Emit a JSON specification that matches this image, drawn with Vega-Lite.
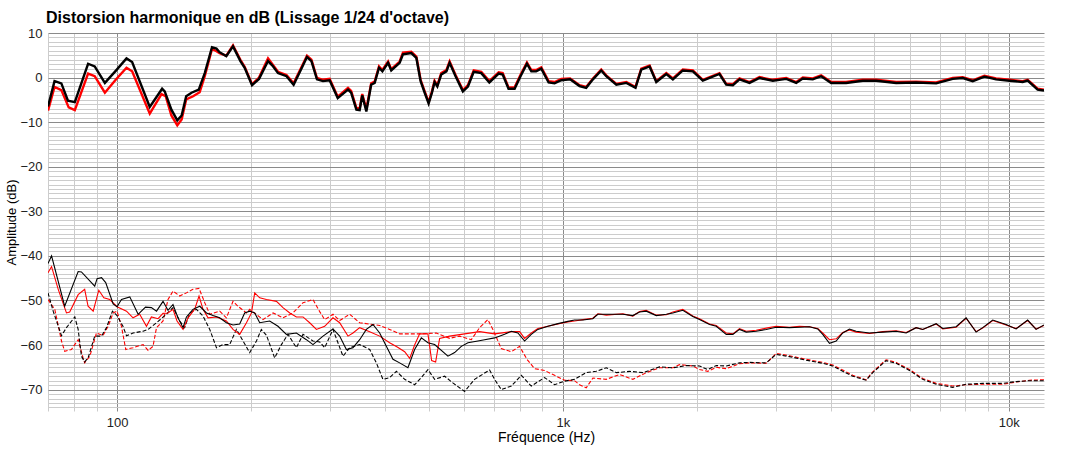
{
  "$schema": "https://vega.github.io/schema/vega-lite/v6.json",
  "width": 996,
  "height": 378,
  "autosize": {"type": "none"},
  "padding": {"left": 48, "top": 33, "right": 34, "bottom": 40},
  "background": "white",
  "title": {"text": "Distorsion harmonique en dB (Lissage 1/24 d'octave)", "anchor": "start", "frame": "group", "font": "Liberation Sans", "fontSize": 16, "fontWeight": "bold", "color": "#000000", "offset": 1, "dx": -2},
  "datasets": {
    "K0": [{"f":70,"db":-6.5},{"f":72.4,"db":-0.8},{"f":75.0,"db":-1.3},{"f":77.6,"db":-5.2},{"f":80.4,"db":-5.5},{"f":86.1,"db":3.1},{"f":89.1,"db":2.5},{"f":93.9,"db":-1.2},{"f":99.3,"db":1.5},{"f":105.0,"db":4.3},{"f":108.1,"db":3.5},{"f":118.4,"db":-6.6},{"f":126.2,"db":-2.5},{"f":127.9,"db":-3.1},{"f":132.4,"db":-7.2},{"f":136.5,"db":-9.6},{"f":139.6,"db":-8.5},{"f":142.9,"db":-4.2},{"f":146.9,"db":-3.4},{"f":152.5,"db":-2.7},{"f":157.3,"db":1.0},{"f":163.3,"db":6.8},{"f":167.1,"db":6.5},{"f":169.8,"db":5.7},{"f":175.8,"db":4.8},{"f":182.0,"db":7.0},{"f":189.1,"db":3.7},{"f":193.3,"db":2.2},{"f":200.8,"db":-1.7},{"f":208.2,"db":-0.3},{"f":218.1,"db":3.7},{"f":223.1,"db":2.7},{"f":229.6,"db":1.0},{"f":239.9,"db":0.3},{"f":248.9,"db":-1.6},{"f":259.1,"db":2.0},{"f":266.7,"db":4.6},{"f":272.9,"db":3.7},{"f":280.8,"db":-0.4},{"f":289.6,"db":-0.8},{"f":299.8,"db":-0.6},{"f":312.6,"db":-4.6},{"f":329.6,"db":-2.7},{"f":335.0,"db":-3.4},{"f":344.2,"db":-7.2},{"f":350.1,"db":-7.3},{"f":354.8,"db":-4.0},{"f":362.4,"db":-7.6},{"f":371.5,"db":-1.6},{"f":378.3,"db":-1.2},{"f":386.9,"db":2.2},{"f":393.7,"db":1.4},{"f":405.4,"db":3.3},{"f":412.1,"db":1.6},{"f":430.4,"db":3.3},{"f":437.8,"db":5.2},{"f":457.1,"db":5.5},{"f":469.2,"db":4.4},{"f":479.6,"db":-0.8},{"f":489.8,"db":-3.4},{"f":499.9,"db":-5.8},{"f":508.5,"db":-3.4},{"f":515.5,"db":-1.0},{"f":522.9,"db":-2.0},{"f":533.6,"db":0.7},{"f":548.0,"db":1.4},{"f":557.1,"db":3.3},{"f":574.5,"db":0.3},{"f":596.6,"db":-3.1},{"f":612.4,"db":-2.0},{"f":631.0,"db":1.3},{"f":656.1,"db":1.0},{"f":683.9,"db":-1.1},{"f":717.8,"db":0.9},{"f":732.8,"db":0.7},{"f":755.3,"db":-2.5},{"f":779.4,"db":-2.5},{"f":803.5,"db":0.3},{"f":830.6,"db":3.1},{"f":849.6,"db":1.4},{"f":871.0,"db":1.4},{"f":894.4,"db":2.0},{"f":929.0,"db":-1.1},{"f":958.0,"db":-1.3},{"f":991.7,"db":-0.6},{"f":1038,"db":-0.4},{"f":1090,"db":-1.9},{"f":1128,"db":-2.3},{"f":1168,"db":-0.4},{"f":1219,"db":1.6},{"f":1251,"db":0.3},{"f":1318,"db":-1.6},{"f":1388,"db":-1.2},{"f":1455,"db":-2.3},{"f":1499,"db":1.8},{"f":1565,"db":2.5},{"f":1620,"db":-1.0},{"f":1706,"db":0.8},{"f":1765,"db":-0.4},{"f":1858,"db":1.6},{"f":1957,"db":1.4},{"f":2060,"db":-0.7},{"f":2245,"db":0.8},{"f":2325,"db":-1.6},{"f":2406,"db":-1.7},{"f":2490,"db":-0.4},{"f":2622,"db":-1.2},{"f":2761,"db":-0.1},{"f":2958,"db":-0.7},{"f":3170,"db":-0.3},{"f":3337,"db":-1.2},{"f":3453,"db":-0.2},{"f":3636,"db":-0.4},{"f":3796,"db":0.3},{"f":3998,"db":-1.2},{"f":4319,"db":-1.2},{"f":4706,"db":-0.7},{"f":5043,"db":-0.7},{"f":5591,"db":-1.2},{"f":6200,"db":-1.1},{"f":6876,"db":-1.3},{"f":7488,"db":-0.3},{"f":7887,"db":-0.1},{"f":8305,"db":-0.8},{"f":8821,"db":0.2},{"f":9369,"db":-0.4},{"f":10037,"db":-0.7},{"f":10750,"db":-1.0},{"f":11030,"db":-0.7},{"f":11610,"db":-2.7},{"f":12000,"db":-2.9}],
    "R0": [{"f":70,"db":-7.4},{"f":72.4,"db":-2.1},{"f":75.0,"db":-2.8},{"f":77.9,"db":-6.7},{"f":80.4,"db":-7.3},{"f":86.1,"db":0.9},{"f":89.1,"db":0.3},{"f":93.9,"db":-3.4},{"f":99.3,"db":-0.5},{"f":105.0,"db":2.2},{"f":108.1,"db":1.4},{"f":118.4,"db":-8.1},{"f":125.8,"db":-3.7},{"f":128.6,"db":-4.2},{"f":132.4,"db":-8.5},{"f":136.5,"db":-10.7},{"f":139.6,"db":-9.4},{"f":142.9,"db":-4.9},{"f":148.1,"db":-4.2},{"f":153.2,"db":-3.3},{"f":157.3,"db":0.3},{"f":163.3,"db":6.4},{"f":167.1,"db":5.9},{"f":169.8,"db":5.5},{"f":175.8,"db":4.9},{"f":182.0,"db":7.2},{"f":189.1,"db":4.0},{"f":193.3,"db":2.4},{"f":200.8,"db":-1.5},{"f":208.2,"db":0.0},{"f":218.1,"db":4.3},{"f":223.1,"db":3.0},{"f":229.6,"db":1.3},{"f":239.9,"db":0.6},{"f":248.9,"db":-1.3},{"f":259.1,"db":2.3},{"f":266.7,"db":4.9},{"f":272.9,"db":4.0},{"f":280.8,"db":-0.1},{"f":289.6,"db":-0.5},{"f":299.8,"db":-0.3},{"f":312.6,"db":-4.3},{"f":329.6,"db":-2.3},{"f":335.0,"db":-3.0},{"f":344.2,"db":-6.8},{"f":350.1,"db":-6.9},{"f":354.8,"db":-3.7},{"f":362.4,"db":-7.1},{"f":371.5,"db":-1.3},{"f":378.3,"db":-0.9},{"f":386.9,"db":2.5},{"f":393.7,"db":1.7},{"f":405.4,"db":3.6},{"f":412.1,"db":1.9},{"f":430.4,"db":3.6},{"f":437.8,"db":5.6},{"f":457.1,"db":5.8},{"f":469.2,"db":4.7},{"f":479.6,"db":-0.5},{"f":489.8,"db":-3.1},{"f":499.9,"db":-5.5},{"f":508.5,"db":-3.1},{"f":515.5,"db":-0.7},{"f":522.9,"db":-1.7},{"f":533.6,"db":1.0},{"f":548.0,"db":1.7},{"f":557.1,"db":3.6},{"f":574.5,"db":0.6},{"f":596.6,"db":-2.8},{"f":612.4,"db":-1.7},{"f":631.0,"db":1.6},{"f":656.1,"db":1.3},{"f":683.9,"db":-0.8},{"f":717.8,"db":1.2},{"f":732.8,"db":1.0},{"f":755.3,"db":-2.2},{"f":779.4,"db":-2.2},{"f":803.5,"db":0.6},{"f":830.6,"db":3.4},{"f":849.6,"db":1.7},{"f":871.0,"db":1.7},{"f":894.4,"db":2.3},{"f":929.0,"db":-0.8},{"f":958.0,"db":-1.0},{"f":991.7,"db":-0.3},{"f":1038,"db":-0.2},{"f":1090,"db":-1.7},{"f":1128,"db":-2.1},{"f":1168,"db":-0.2},{"f":1219,"db":1.8},{"f":1251,"db":0.5},{"f":1318,"db":-1.4},{"f":1388,"db":-1.0},{"f":1455,"db":-2.1},{"f":1499,"db":2.0},{"f":1565,"db":2.7},{"f":1620,"db":-0.8},{"f":1706,"db":1.0},{"f":1765,"db":-0.2},{"f":1858,"db":1.8},{"f":1957,"db":1.6},{"f":2060,"db":-0.5},{"f":2245,"db":1.0},{"f":2325,"db":-1.4},{"f":2406,"db":-1.5},{"f":2490,"db":-0.2},{"f":2622,"db":-1.0},{"f":2761,"db":0.1},{"f":2958,"db":-0.5},{"f":3170,"db":-0.1},{"f":3337,"db":-1.0},{"f":3453,"db":0.0},{"f":3636,"db":-0.2},{"f":3796,"db":0.5},{"f":3998,"db":-1.0},{"f":4319,"db":-1.0},{"f":4706,"db":-0.5},{"f":5043,"db":-0.5},{"f":5591,"db":-1.0},{"f":6200,"db":-0.9},{"f":6876,"db":-1.1},{"f":7488,"db":-0.1},{"f":7887,"db":0.1},{"f":8305,"db":-0.6},{"f":8821,"db":0.4},{"f":9369,"db":-0.2},{"f":10037,"db":-0.5},{"f":10750,"db":-0.8},{"f":11030,"db":-0.5},{"f":11610,"db":-2.5},{"f":12000,"db":-2.7}],
    "K2": [{"f":70,"db":-41.7},{"f":71.3,"db":-40.0},{"f":76.3,"db":-51.3},{"f":81.8,"db":-43.5},{"f":83.2,"db":-43.6},{"f":89.1,"db":-46.8},{"f":90.2,"db":-45.1},{"f":92.3,"db":-44.9},{"f":94.3,"db":-46.0},{"f":98.0,"db":-50.8},{"f":100,"db":-51.4},{"f":102.3,"db":-49.8},{"f":106.8,"db":-49.2},{"f":111.5,"db":-53.1},{"f":115.8,"db":-51.5},{"f":119.4,"db":-51.6},{"f":122.6,"db":-52.4},{"f":126.8,"db":-50.2},{"f":130.1,"db":-52.2},{"f":133.5,"db":-50.9},{"f":137.0,"db":-53.9},{"f":140.6,"db":-56.1},{"f":143.1,"db":-53.7},{"f":148.0,"db":-52.0},{"f":153.3,"db":-51.3},{"f":158.7,"db":-52.8},{"f":164.2,"db":-53.4},{"f":169.9,"db":-53.9},{"f":175.9,"db":-55.0},{"f":182.0,"db":-55.5},{"f":188.4,"db":-55.3},{"f":193.3,"db":-52.8},{"f":198.4,"db":-52.4},{"f":203.6,"db":-52.8},{"f":208.9,"db":-55.0},{"f":220.0,"db":-54.6},{"f":229.6,"db":-55.8},{"f":239.8,"db":-57.6},{"f":252.5,"db":-57.3},{"f":265.9,"db":-58.8},{"f":275.1,"db":-59.9},{"f":289.7,"db":-58.0},{"f":305.0,"db":-56.4},{"f":315.7,"db":-58.0},{"f":326.9,"db":-61.0},{"f":338.2,"db":-60.6},{"f":350.1,"db":-58.8},{"f":362.4,"db":-56.5},{"f":375.0,"db":-55.4},{"f":388.2,"db":-57.3},{"f":401.8,"db":-60.3},{"f":415.8,"db":-63.2},{"f":430.4,"db":-64.0},{"f":449.2,"db":-65.1},{"f":465.0,"db":-61.0},{"f":481.4,"db":-58.4},{"f":498.1,"db":-59.5},{"f":515.6,"db":-59.9},{"f":552.3,"db":-62.5},{"f":571.7,"db":-61.7},{"f":591.8,"db":-60.3},{"f":612.4,"db":-59.5},{"f":644.8,"db":-59.1},{"f":667.6,"db":-58.8},{"f":702.8,"db":-58.4},{"f":740.1,"db":-57.6},{"f":766.3,"db":-56.9},{"f":792.7,"db":-57.3},{"f":820.6,"db":-59.1},{"f":849.5,"db":-57.6},{"f":878.9,"db":-56.5},{"f":925.5,"db":-55.8},{"f":974.7,"db":-55.2},{"f":1026,"db":-54.7},{"f":1062,"db":-54.4},{"f":1109,"db":-54.4},{"f":1167,"db":-54.1},{"f":1198,"db":-53.1},{"f":1251,"db":-53.1},{"f":1363,"db":-53.1},{"f":1435,"db":-53.4},{"f":1486,"db":-52.6},{"f":1538,"db":-52.4},{"f":1620,"db":-53.4},{"f":1706,"db":-53.1},{"f":1765,"db":-52.8},{"f":1858,"db":-52.2},{"f":1956,"db":-53.6},{"f":2025,"db":-54.3},{"f":2133,"db":-55.4},{"f":2208,"db":-55.8},{"f":2325,"db":-57.6},{"f":2406,"db":-57.6},{"f":2490,"db":-56.5},{"f":2578,"db":-57.1},{"f":2714,"db":-56.9},{"f":2858,"db":-56.5},{"f":3009,"db":-56.0},{"f":3223,"db":-56.1},{"f":3394,"db":-56.0},{"f":3573,"db":-55.9},{"f":3730,"db":-56.4},{"f":3827,"db":-57.6},{"f":3963,"db":-59.6},{"f":4102,"db":-59.1},{"f":4244,"db":-57.3},{"f":4394,"db":-56.4},{"f":4548,"db":-56.9},{"f":4872,"db":-57.3},{"f":5217,"db":-57.1},{"f":5592,"db":-56.9},{"f":5888,"db":-57.3},{"f":6199,"db":-56.1},{"f":6414,"db":-56.5},{"f":6875,"db":-55.2},{"f":7113,"db":-56.3},{"f":7621,"db":-55.9},{"f":8025,"db":-53.9},{"f":8450,"db":-57.1},{"f":8743,"db":-56.1},{"f":9208,"db":-54.4},{"f":9866,"db":-55.4},{"f":10389,"db":-56.4},{"f":11029,"db":-54.4},{"f":11519,"db":-56.5},{"f":12000,"db":-55.5}],
    "R2": [{"f":70,"db":-43.8},{"f":71.3,"db":-42.4},{"f":73.8,"db":-47.5},{"f":77.0,"db":-52.8},{"f":78.3,"db":-52.6},{"f":81.8,"db":-48.7},{"f":84.6,"db":-47.5},{"f":86.1,"db":-51.3},{"f":88.4,"db":-52.4},{"f":91.0,"db":-47.7},{"f":93.4,"db":-49.4},{"f":96.3,"db":-49.8},{"f":100,"db":-51.4},{"f":105.0,"db":-52.4},{"f":108.6,"db":-53.9},{"f":112.4,"db":-53.1},{"f":116.4,"db":-55.8},{"f":119.4,"db":-53.7},{"f":123.6,"db":-54.1},{"f":126.8,"db":-52.9},{"f":130.1,"db":-52.8},{"f":133.5,"db":-52.0},{"f":136.3,"db":-54.6},{"f":140.6,"db":-56.5},{"f":144.3,"db":-53.9},{"f":149.4,"db":-51.9},{"f":152.7,"db":-49.0},{"f":155.9,"db":-52.0},{"f":160.0,"db":-53.9},{"f":167.1,"db":-53.7},{"f":175.9,"db":-54.6},{"f":182.0,"db":-56.5},{"f":188.4,"db":-57.6},{"f":195.1,"db":-55.0},{"f":200.2,"db":-52.8},{"f":203.6,"db":-48.3},{"f":208.9,"db":-49.4},{"f":216.3,"db":-49.8},{"f":227.8,"db":-50.2},{"f":235.6,"db":-51.6},{"f":244.0,"db":-52.8},{"f":252.5,"db":-53.7},{"f":261.3,"db":-53.7},{"f":270.4,"db":-55.0},{"f":280.0,"db":-56.5},{"f":292.2,"db":-55.8},{"f":305.0,"db":-53.9},{"f":315.7,"db":-55.0},{"f":329.6,"db":-58.0},{"f":338.2,"db":-57.3},{"f":350.1,"db":-56.1},{"f":368.7,"db":-57.0},{"f":388.2,"db":-58.0},{"f":408.7,"db":-59.5},{"f":426.0,"db":-60.5},{"f":441.7,"db":-61.5},{"f":453.3,"db":-63.0},{"f":465.0,"db":-60.0},{"f":477.2,"db":-57.5},{"f":498.1,"db":-57.5},{"f":507.7,"db":-63.5},{"f":518.3,"db":-63.8},{"f":529.1,"db":-58.5},{"f":557.2,"db":-58.0},{"f":602.0,"db":-57.5},{"f":650.5,"db":-57.0},{"f":702.8,"db":-57.5},{"f":766.3,"db":-57.0},{"f":799.7,"db":-57.0},{"f":820.6,"db":-58.5},{"f":849.5,"db":-57.3},{"f":878.9,"db":-56.3},{"f":925.5,"db":-55.8},{"f":974.7,"db":-55.3},{"f":1026,"db":-54.8},{"f":1062,"db":-54.6},{"f":1109,"db":-54.3},{"f":1167,"db":-54.0},{"f":1198,"db":-53.0},{"f":1251,"db":-53.3},{"f":1363,"db":-53.0},{"f":1435,"db":-53.5},{"f":1486,"db":-52.5},{"f":1538,"db":-52.2},{"f":1620,"db":-53.3},{"f":1706,"db":-53.2},{"f":1765,"db":-52.6},{"f":1858,"db":-52.0},{"f":1956,"db":-53.5},{"f":2025,"db":-54.1},{"f":2133,"db":-55.3},{"f":2208,"db":-55.6},{"f":2325,"db":-57.3},{"f":2406,"db":-57.5},{"f":2490,"db":-56.3},{"f":2578,"db":-56.9},{"f":2714,"db":-56.7},{"f":2858,"db":-56.2},{"f":3009,"db":-55.8},{"f":3223,"db":-56.0},{"f":3394,"db":-55.8},{"f":3573,"db":-55.9},{"f":3730,"db":-56.3},{"f":3827,"db":-57.3},{"f":3963,"db":-58.8},{"f":4102,"db":-58.6},{"f":4244,"db":-57.2},{"f":4394,"db":-56.6},{"f":4548,"db":-57.1},{"f":4872,"db":-57.4},{"f":5217,"db":-57.0},{"f":5592,"db":-56.8},{"f":5888,"db":-57.2},{"f":6199,"db":-56.1},{"f":6414,"db":-56.5},{"f":6875,"db":-55.3},{"f":7113,"db":-56.4},{"f":7621,"db":-56.0},{"f":8025,"db":-54.0},{"f":8450,"db":-57.0},{"f":8743,"db":-56.2},{"f":9208,"db":-54.5},{"f":9866,"db":-55.5},{"f":10389,"db":-56.3},{"f":11029,"db":-54.5},{"f":11519,"db":-56.4},{"f":12000,"db":-55.6}],
    "K3": [{"f":70,"db":-48.3},{"f":71.9,"db":-52.4},{"f":75.05,"db":-57.9},{"f":77.0,"db":-56.1},{"f":80.4,"db":-53.7},{"f":81.8,"db":-56.5},{"f":83.2,"db":-62.5},{"f":84.6,"db":-63.8},{"f":86.1,"db":-62.9},{"f":89.1,"db":-58.0},{"f":92.3,"db":-58.0},{"f":94.7,"db":-56.1},{"f":97.65,"db":-52.4},{"f":100,"db":-53.4},{"f":103.1,"db":-55.8},{"f":105.0,"db":-57.9},{"f":108.6,"db":-57.3},{"f":114.4,"db":-56.9},{"f":117.4,"db":-56.5},{"f":122.6,"db":-55.0},{"f":129.0,"db":-53.1},{"f":133.5,"db":-51.6},{"f":138.2,"db":-54.6},{"f":141.8,"db":-56.1},{"f":145.6,"db":-52.8},{"f":150.7,"db":-52.0},{"f":155.9,"db":-53.5},{"f":161.4,"db":-56.5},{"f":167.1,"db":-60.6},{"f":172.8,"db":-59.9},{"f":178.9,"db":-59.9},{"f":185.2,"db":-56.5},{"f":191.7,"db":-59.1},{"f":198.4,"db":-61.7},{"f":205.4,"db":-59.1},{"f":210.7,"db":-56.5},{"f":216.3,"db":-57.8},{"f":225.7,"db":-62.9},{"f":233.7,"db":-59.9},{"f":241.8,"db":-57.6},{"f":252.5,"db":-60.6},{"f":261.3,"db":-57.6},{"f":275.1,"db":-59.1},{"f":284.8,"db":-59.3},{"f":292.2,"db":-60.6},{"f":305.0,"db":-56.5},{"f":321.2,"db":-62.5},{"f":332.5,"db":-60.6},{"f":350.1,"db":-59.9},{"f":368.7,"db":-61.0},{"f":381.6,"db":-64.0},{"f":394.8,"db":-67.7},{"f":408.7,"db":-67.3},{"f":423.3,"db":-65.9},{"f":441.7,"db":-67.7},{"f":465.0,"db":-68.9},{"f":481.4,"db":-67.3},{"f":498.1,"db":-65.5},{"f":515.6,"db":-67.7},{"f":543.0,"db":-67.0},{"f":566.6,"db":-68.5},{"f":602.0,"db":-70.4},{"f":633.9,"db":-67.7},{"f":684.9,"db":-65.6},{"f":702.8,"db":-67.7},{"f":727.6,"db":-70.0},{"f":766.3,"db":-69.2},{"f":806.7,"db":-66.8},{"f":849.5,"db":-69.2},{"f":909.9,"db":-67.3},{"f":958.0,"db":-68.9},{"f":1009,"db":-68.1},{"f":1062,"db":-67.7},{"f":1128,"db":-66.2},{"f":1188,"db":-65.9},{"f":1251,"db":-65.1},{"f":1318,"db":-66.2},{"f":1411,"db":-65.9},{"f":1512,"db":-66.2},{"f":1648,"db":-64.9},{"f":1765,"db":-65.1},{"f":1891,"db":-64.6},{"f":2025,"db":-64.7},{"f":2114,"db":-65.5},{"f":2208,"db":-64.6},{"f":2325,"db":-64.7},{"f":2490,"db":-64.0},{"f":2622,"db":-63.9},{"f":2858,"db":-64.0},{"f":3009,"db":-62.1},{"f":3223,"db":-62.6},{"f":3514,"db":-63.4},{"f":3827,"db":-64.1},{"f":4031,"db":-64.7},{"f":4244,"db":-65.9},{"f":4470,"db":-67.0},{"f":4789,"db":-67.9},{"f":4955,"db":-66.2},{"f":5309,"db":-63.5},{"f":5592,"db":-64.1},{"f":5990,"db":-65.7},{"f":6414,"db":-67.7},{"f":6875,"db":-68.8},{"f":7489,"db":-69.5},{"f":8025,"db":-68.8},{"f":8743,"db":-68.6},{"f":9694,"db":-68.6},{"f":10389,"db":-68.2},{"f":11127,"db":-68.0},{"f":12000,"db":-68.0}],
    "R3": [{"f":70,"db":-49.8},{"f":72.5,"db":-52.0},{"f":75.05,"db":-59.1},{"f":76.3,"db":-61.4},{"f":79.0,"db":-61.0},{"f":81.8,"db":-58.8},{"f":83.9,"db":-62.9},{"f":84.6,"db":-64.0},{"f":86.9,"db":-62.5},{"f":89.9,"db":-57.3},{"f":93.0,"db":-57.9},{"f":95.5,"db":-55.8},{"f":98.0,"db":-52.8},{"f":100,"db":-52.4},{"f":102.3,"db":-55.8},{"f":104.6,"db":-61.0},{"f":108.6,"db":-60.6},{"f":114.4,"db":-59.9},{"f":117.4,"db":-61.2},{"f":120.4,"db":-60.3},{"f":122.6,"db":-56.1},{"f":126.8,"db":-54.6},{"f":130.1,"db":-49.8},{"f":133.5,"db":-47.9},{"f":138.2,"db":-49.0},{"f":143.1,"db":-48.3},{"f":148.0,"db":-47.5},{"f":152.7,"db":-47.3},{"f":157.3,"db":-50.5},{"f":161.4,"db":-53.1},{"f":169.9,"db":-52.4},{"f":175.9,"db":-53.9},{"f":182.0,"db":-50.2},{"f":186.7,"db":-51.3},{"f":195.1,"db":-52.8},{"f":198.4,"db":-52.0},{"f":212.5,"db":-54.3},{"f":223.8,"db":-52.8},{"f":235.6,"db":-53.9},{"f":248.0,"db":-52.8},{"f":261.3,"db":-50.5},{"f":275.1,"db":-49.8},{"f":284.8,"db":-52.5},{"f":292.2,"db":-54.3},{"f":305.0,"db":-53.1},{"f":315.7,"db":-54.5},{"f":332.5,"db":-53.1},{"f":350.1,"db":-55.0},{"f":368.7,"db":-55.3},{"f":388.2,"db":-55.6},{"f":408.7,"db":-56.5},{"f":430.4,"db":-57.5},{"f":477.2,"db":-57.5},{"f":520.2,"db":-57.3},{"f":557.2,"db":-58.5},{"f":586.7,"db":-58.0},{"f":623.2,"db":-58.8},{"f":650.5,"db":-56.1},{"f":678.9,"db":-54.3},{"f":696.6,"db":-56.5},{"f":727.6,"db":-60.8},{"f":766.3,"db":-61.5},{"f":799.7,"db":-60.3},{"f":830.6,"db":-63.2},{"f":864.2,"db":-65.3},{"f":909.8,"db":-65.7},{"f":958.0,"db":-66.8},{"f":1009,"db":-67.9},{"f":1062,"db":-68.0},{"f":1090,"db":-68.9},{"f":1128,"db":-69.6},{"f":1168,"db":-67.4},{"f":1251,"db":-67.7},{"f":1340,"db":-66.6},{"f":1435,"db":-67.7},{"f":1538,"db":-66.2},{"f":1648,"db":-65.1},{"f":1765,"db":-65.1},{"f":1827,"db":-64.4},{"f":1956,"db":-64.7},{"f":2025,"db":-65.5},{"f":2114,"db":-65.9},{"f":2208,"db":-65.0},{"f":2325,"db":-65.3},{"f":2490,"db":-64.2},{"f":2622,"db":-64.0},{"f":2858,"db":-64.1},{"f":3009,"db":-61.9},{"f":3223,"db":-62.4},{"f":3514,"db":-63.2},{"f":3827,"db":-63.9},{"f":4031,"db":-64.5},{"f":4244,"db":-65.6},{"f":4470,"db":-66.8},{"f":4789,"db":-67.8},{"f":4955,"db":-66.0},{"f":5309,"db":-63.3},{"f":5592,"db":-63.9},{"f":5990,"db":-65.5},{"f":6414,"db":-67.5},{"f":6875,"db":-68.6},{"f":7489,"db":-69.2},{"f":8025,"db":-68.9},{"f":8743,"db":-68.8},{"f":9694,"db":-68.8},{"f":10389,"db":-68.3},{"f":11127,"db":-67.9},{"f":12000,"db":-67.8}]
  },
  "encoding": {
    "x": {"field": "f", "type": "quantitative", "scale": {"type": "log", "domain": [70, 12000], "nice": false},
      "axis": {"values": [70,80,90,100,200,300,400,500,600,700,800,900,1000,2000,3000,4000,5000,6000,7000,8000,9000,10000],
        "labelExpr": "datum.value == 100 ? '100' : datum.value == 1000 ? '1k' : datum.value == 10000 ? '10k' : ''",
        "labelOverlap": false, "labelFlush": false, "ticks": false, "domain": false, "grid": true,
        "gridColor": {"condition": {"test": "datum.value == 100 || datum.value == 1000 || datum.value == 10000", "value": "#8a8a8a"}, "value": "#cccccc"},
        "gridWidth": 1, "labelFont": "Liberation Sans", "labelFontSize": 13, "labelColor": "#222222", "labelPadding": 5,
        "title": "Fréquence (Hz)", "titleFont": "Liberation Sans", "titleFontSize": 14, "titleFontWeight": "normal", "titleColor": "#000000", "titlePadding": 1}},
    "y": {"field": "db", "type": "quantitative", "scale": {"domain": [-74.8, 10], "nice": false, "zero": false},
      "axis": {"values": [10,9,8,7,6,5,4,3,2,1,0,-1,-2,-3,-4,-5,-6,-7,-8,-9,-10,-11,-12,-13,-14,-15,-16,-17,-18,-19,-20,-21,-22,-23,-24,-25,-26,-27,-28,-29,-30,-31,-32,-33,-34,-35,-36,-37,-38,-39,-40,-41,-42,-43,-44,-45,-46,-47,-48,-49,-50,-51,-52,-53,-54,-55,-56,-57,-58,-59,-60,-61,-62,-63,-64,-65,-66,-67,-68,-69,-70,-71,-72,-73,-74],
        "labelExpr": "datum.value % 10 == 0 ? datum.label : ''",
        "format": "d", "labelOverlap": false, "labelFlush": false, "ticks": false, "domain": false, "grid": true,
        "gridColor": {"condition": {"test": "datum.value % 10 == 0", "value": "#8a8a8a"}, "value": "#cccccc"},
        "gridWidth": 1, "labelFont": "Liberation Sans", "labelFontSize": 13, "labelColor": "#222222", "labelPadding": 6,
        "title": "Amplitude (dB)", "titleFont": "Liberation Sans", "titleFontSize": 13, "titleFontWeight": "normal", "titleColor": "#000000", "titlePadding": 1}}
  },
  "layer": [
    {"data": {"name": "R3"}, "mark": {"type": "line", "color": "#ff0000", "strokeWidth": 1.1, "strokeDash": [4, 2], "clip": true}},
    {"data": {"name": "K3"}, "mark": {"type": "line", "color": "#000000", "strokeWidth": 1.1, "strokeDash": [4, 2], "clip": true}},
    {"data": {"name": "R2"}, "mark": {"type": "line", "color": "#ff0000", "strokeWidth": 1.1, "clip": true}},
    {"data": {"name": "K2"}, "mark": {"type": "line", "color": "#000000", "strokeWidth": 1.1, "clip": true}},
    {"data": {"name": "R0"}, "mark": {"type": "line", "color": "#ff0000", "strokeWidth": 2.4, "clip": true}},
    {"data": {"name": "K0"}, "mark": {"type": "line", "color": "#000000", "strokeWidth": 2.4, "clip": true}}
  ],
  "config": {"view": {"stroke": null}}
}
